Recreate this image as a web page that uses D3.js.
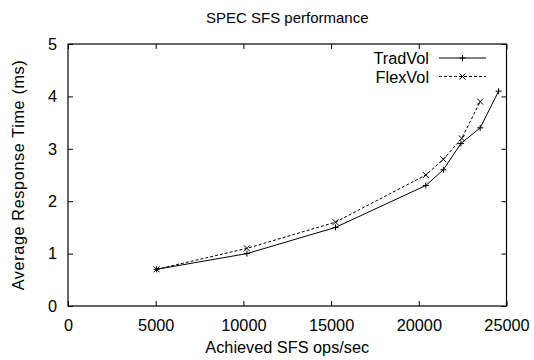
<!DOCTYPE html>
<html>
<head>
<meta charset="utf-8">
<script src="https://cdn.jsdelivr.net/npm/d3@7"></script>
<style>
  html, body { margin: 0; padding: 0; background: #fff; }
  svg { display: block; }
  text { font-family: "Liberation Sans", Arial, sans-serif; fill: #000; }
</style>
</head>
<body>
<div id="chart"></div>
<script>
// ---- data ----
const title = "SPEC SFS performance";
const xLabel = "Achieved SFS ops/sec";
const yLabel = "Average Response Time (ms)";
const seriesNames = ["TradVol", "FlexVol"];
const tradX = [5050, 10200, 15250, 20400, 21400, 22400, 23500, 24550];
const tradY = [0.7, 1.0, 1.5, 2.3, 2.6, 3.1, 3.4, 4.1];
const flexX = [5050, 10200, 15250, 20400, 21400, 22450, 23500];
const flexY = [0.7, 1.1, 1.6, 2.5, 2.8, 3.2, 3.9];
const xTicks = [0, 5000, 10000, 15000, 20000, 25000];
const yTicks = [0, 1, 2, 3, 4, 5];

// ---- layout ----
const W = 534, H = 360;
const plot = { left: 68, right: 506.5, top: 44, bottom: 306 };
const fs = 16.3;

const svg = d3.select("#chart").append("svg")
  .attr("width", W).attr("height", H);

const x = d3.scaleLinear().domain([0, 25000]).range([plot.left, plot.right]);
const y = d3.scaleLinear().domain([0, 5]).range([plot.bottom, plot.top]);

const tickLen = 5;
const tickColor = "#000";

const gx = svg.append("g").attr("transform", `translate(0,${plot.bottom})`)
  .call(d3.axisBottom(x).tickValues(xTicks).tickSize(-tickLen).tickPadding(tickLen + 8).tickFormat(d3.format("d")));
const gxt = svg.append("g").attr("transform", `translate(0,${plot.top})`)
  .call(d3.axisTop(x).tickValues(xTicks).tickSize(-tickLen).tickFormat(""));
const gy = svg.append("g").attr("transform", `translate(${plot.left},0)`)
  .call(d3.axisLeft(y).tickValues(yTicks).tickSize(-tickLen).tickPadding(tickLen + 6).tickFormat(d3.format("d")));
const gyr = svg.append("g").attr("transform", `translate(${plot.right},0)`)
  .call(d3.axisRight(y).tickValues(yTicks).tickSize(-tickLen).tickFormat(""));

[gx, gxt, gy, gyr].forEach(g => {
  g.select(".domain").remove();
  g.selectAll(".tick line").attr("stroke", tickColor).attr("stroke-width", 1);
  g.selectAll("text").attr("font-size", fs).attr("font-family", '"Liberation Sans", Arial, sans-serif').attr("fill", "#000");
});

svg.append("rect")
  .attr("x", plot.left).attr("y", plot.top)
  .attr("width", plot.right - plot.left).attr("height", plot.bottom - plot.top)
  .attr("fill", "none").attr("stroke", "#000").attr("stroke-width", 1.2);

svg.append("text").attr("x", (plot.left + plot.right) / 2).attr("y", 23)
  .attr("text-anchor", "middle").attr("font-size", 15).text(title);
svg.append("text").attr("x", (plot.left + plot.right) / 2).attr("y", 353)
  .attr("text-anchor", "middle").attr("font-size", fs).text(xLabel);
svg.append("text")
  .attr("transform", `translate(24,${(plot.top + plot.bottom) / 2}) rotate(-90)`)
  .attr("text-anchor", "middle").attr("font-size", fs).attr("letter-spacing", 0.6).text(yLabel);

const series = [
  { name: seriesNames[0], xs: tradX, ys: tradY, dash: null, marker: "plus" },
  { name: seriesNames[1], xs: flexX, ys: flexY, dash: "3,2", marker: "cross" }
];
const lineGen = d3.line().x(d => x(d[0])).y(d => y(d[1]));
const ms = 3;
function drawMarker(g, cx, cy, type) {
  if (type === "plus") {
    g.append("path").attr("d", `M${cx - ms},${cy}H${cx + ms}M${cx},${cy - ms}V${cy + ms}`)
      .attr("stroke", "#000").attr("stroke-width", 1).attr("fill", "none");
  } else {
    g.append("path").attr("d", `M${cx - ms},${cy - ms}L${cx + ms},${cy + ms}M${cx - ms},${cy + ms}L${cx + ms},${cy - ms}`)
      .attr("stroke", "#000").attr("stroke-width", 1).attr("fill", "none");
  }
}

series.forEach((s, i) => {
  const pts = s.xs.map((v, k) => [v, s.ys[k]]);
  const g = svg.append("g");
  g.append("path").datum(pts).attr("d", lineGen)
    .attr("fill", "none").attr("stroke", "#000").attr("stroke-width", 1)
    .attr("stroke-dasharray", s.dash);
  pts.forEach(p => drawMarker(g, x(p[0]), y(p[1]), s.marker));

  const ly = 58 + i * 18.5;
  svg.append("text").attr("x", 429).attr("y", ly + 6)
    .attr("text-anchor", "end").attr("font-size", fs).text(s.name);
  svg.append("line").attr("x1", 439).attr("x2", 486).attr("y1", ly).attr("y2", ly)
    .attr("stroke", "#000").attr("stroke-width", 1).attr("stroke-dasharray", s.dash);
  drawMarker(svg, 462.5, ly, s.marker);
});
</script>
</body>
</html>
